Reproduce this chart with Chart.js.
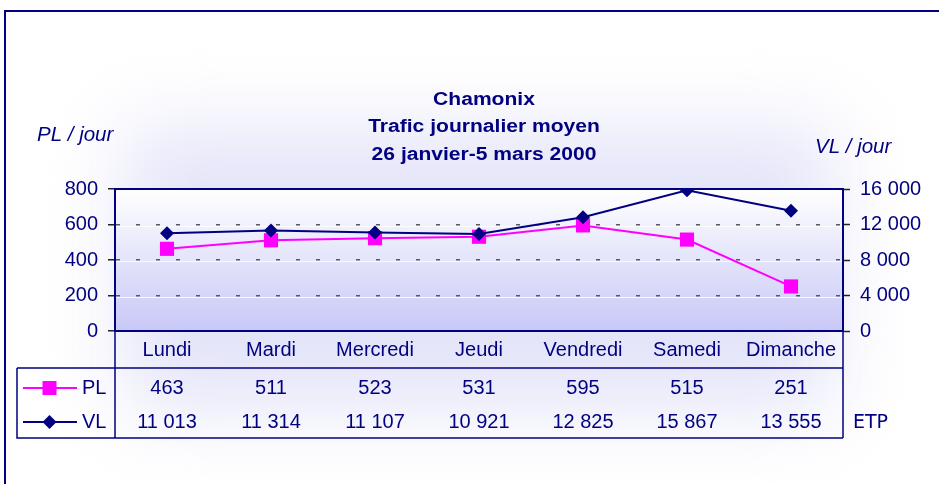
<!DOCTYPE html>
<html>
<head>
<meta charset="utf-8">
<title>Chamonix - Trafic journalier moyen</title>
<script src="https://cdn.jsdelivr.net/npm/chart.js"></script>
<style>
  html, body { margin: 0; padding: 0; background: #fff; }
  #wrap { width: 939px; height: 484px; position: relative; }
</style>
</head>
<body>
<div id="wrap"><canvas id="chart" width="939" height="484"></canvas></div>
<script>
  // Donnees
  const jours = ['Lundi', 'Mardi', 'Mercredi', 'Jeudi', 'Vendredi', 'Samedi', 'Dimanche'];
  const pl = [463, 511, 523, 531, 595, 515, 251];
  const vl = [11013, 11314, 11107, 10921, 12825, 15867, 13555];
  const titre = ['Chamonix', 'Trafic journalier moyen', '26 janvier-5 mars 2000'];

  const NAVY = '#000080';
  const PINK = '#ff00ff';
  const FONT = '"Liberation Sans", Arial, sans-serif';

  // separateur de milliers avec espace
  function fmt(v) {
    return String(v).replace(/\B(?=(\d{3})+(?!\d))/g, ' ');
  }

  Chart.defaults.font.family = FONT;
  Chart.defaults.color = NAVY;

  // Fond, degrade de la zone de tracage
  const fond = {
    id: 'fond',
    beforeDraw(chart) {
      const { ctx, chartArea: a } = chart;
      ctx.save();
      ctx.fillStyle = '#ffffff';
      ctx.fillRect(0, 0, chart.width, chart.height);
      ctx.filter = 'blur(40px)';
      ctx.fillStyle = '#e4e4f9';
      ctx.fillRect(a.left + 10, a.top - 60, a.right - a.left - 20, 280);
      ctx.filter = 'none';

      // degrade vertical de la zone de tracage
      const g = ctx.createLinearGradient(0, a.top, 0, a.bottom);
      g.addColorStop(0, '#ffffff');
      g.addColorStop(1, '#c8c8f7');
      ctx.fillStyle = g;
      ctx.fillRect(a.left, a.top, a.right - a.left, a.bottom - a.top);

      // lignes claires sous le quadrillage
      const y = chart.scales.y;
      ctx.strokeStyle = 'rgba(255,255,255,0.8)';
      ctx.lineWidth = 1;
      [200, 400, 600].forEach(v => {
        const py = Math.round(y.getPixelForValue(v)) + 1.5;
        ctx.beginPath();
        ctx.moveTo(a.left, py);
        ctx.lineTo(a.right, py);
        ctx.stroke();
      });

      // cadre exterieur
      ctx.strokeStyle = NAVY;
      ctx.lineWidth = 2;
      ctx.beginPath();
      ctx.moveTo(5, chart.height);
      ctx.lineTo(5, 11);
      ctx.lineTo(chart.width, 11);
      ctx.stroke();
      ctx.restore();
    }
  };

  // Titre, titres d'axes, tableau de donnees
  const habillage = {
    id: 'habillage',
    beforeDatasetsDraw(chart) {
      const { ctx, chartArea: a } = chart;
      const x = chart.scales.x;
      ctx.save();

      // cadre de la zone de tracage
      ctx.strokeStyle = NAVY;
      ctx.lineWidth = 2;
      ctx.strokeRect(a.left, a.top, a.right - a.left, a.bottom - a.top);

      // titre
      ctx.fillStyle = NAVY;
      ctx.textAlign = 'center';
      ctx.textBaseline = 'middle';
      ctx.font = 'bold 18px ' + FONT;
      const ty = [100, 127, 155];
      titre.forEach((t, i) => {
        ctx.save();
        ctx.translate(484, ty[i]);
        ctx.scale(1.17, 1);
        ctx.fillText(t, 0, 0);
        ctx.restore();
      });

      // titres des axes
      ctx.font = 'italic 20.5px ' + FONT;
      ctx.textAlign = 'left';
      ctx.fillText('PL / jour', 37, 135);
      ctx.fillText('VL / jour', 815, 147);

      // tableau
      const top = 368, bottom = 438, left = 17;
      ctx.lineWidth = 1.5;
      ctx.beginPath();
      ctx.moveTo(a.left, a.bottom);
      ctx.lineTo(a.left, bottom);
      ctx.moveTo(a.right, a.bottom);
      ctx.lineTo(a.right, bottom);
      ctx.moveTo(left, top);
      ctx.lineTo(a.right, top);
      ctx.moveTo(left, top);
      ctx.lineTo(left, bottom);
      ctx.lineTo(a.right, bottom);
      ctx.stroke();

      const rowPL = 388, rowVL = 422;
      ctx.font = '20px ' + FONT;
      ctx.textAlign = 'center';
      jours.forEach((j, i) => {
        const px = x.getPixelForValue(i);
        ctx.fillText(fmt(pl[i]), px, rowPL);
        ctx.fillText(fmt(vl[i]), px, rowVL);
      });

      // cles de legende
      ctx.lineWidth = 2;
      ctx.strokeStyle = PINK;
      ctx.beginPath();
      ctx.moveTo(23, rowPL);
      ctx.lineTo(77, rowPL);
      ctx.stroke();
      ctx.fillStyle = PINK;
      ctx.fillRect(42.5, rowPL - 7, 14, 14);

      ctx.strokeStyle = NAVY;
      ctx.beginPath();
      ctx.moveTo(23, rowVL);
      ctx.lineTo(77, rowVL);
      ctx.stroke();
      ctx.fillStyle = NAVY;
      ctx.beginPath();
      ctx.moveTo(49.5, rowVL - 7);
      ctx.lineTo(56.5, rowVL);
      ctx.lineTo(49.5, rowVL + 7);
      ctx.lineTo(42.5, rowVL);
      ctx.closePath();
      ctx.fill();

      ctx.textAlign = 'left';
      ctx.fillText('PL', 82, rowPL);
      ctx.fillText('VL', 82, rowVL);

      ctx.font = '19px "DejaVu Sans", ' + FONT;
      ctx.fillText('ETP', 853, rowVL + 1);
      ctx.restore();
    }
  };

  new Chart(document.getElementById('chart'), {
    type: 'line',
    data: {
      labels: jours,
      datasets: [
        {
          label: 'VL',
          data: vl,
          yAxisID: 'y1',
          borderColor: NAVY,
          backgroundColor: NAVY,
          borderWidth: 2,
          pointStyle: 'rectRot',
          pointRadius: 7,
          pointBorderWidth: 0,
          tension: 0
        },
        {
          label: 'PL',
          data: pl,
          yAxisID: 'y',
          borderColor: PINK,
          backgroundColor: PINK,
          borderWidth: 2,
          pointStyle: 'rect',
          pointRadius: 10,
          pointBorderWidth: 0,
          tension: 0
        }
      ]
    },
    options: {
      responsive: false,
      animation: false,
      layout: { padding: { top: 189, bottom: 116, left: 0, right: 0 } },
      plugins: {
        legend: { display: false },
        title: { display: false },
        tooltip: { enabled: false }
      },
      scales: {
        x: {
          offset: true,
          grid: { display: false, drawTicks: false },
          border: { display: false },
          ticks: { padding: 7, color: NAVY, font: { size: 20 }, maxRotation: 0 },
          afterFit: s => { s.height = 37; }
        },
        y: {
          position: 'left',
          min: 0,
          max: 800,
          ticks: { stepSize: 200, padding: 10, color: NAVY, font: { size: 20 } },
          grid: {
            color: c => (c.tick && c.tick.value > 0 && c.tick.value < 800) ? '#5a5a5a' : 'rgba(0,0,0,0)',
            lineWidth: 1.5,
            tickLength: 7,
            tickColor: '#222',
            tickWidth: 1.5,
            tickBorderDash: []
          },
          border: { display: true, color: NAVY, width: 2, dash: [4, 16] },
          afterFit: s => { s.width = 115; }
        },
        y1: {
          position: 'right',
          min: 0,
          max: 16000,
          ticks: { stepSize: 4000, padding: 10, color: NAVY, font: { size: 20 }, callback: v => fmt(v) },
          grid: { drawOnChartArea: false, tickLength: 7, tickColor: '#222', tickWidth: 1.5 },
          border: { display: true, color: NAVY, width: 2 },
          afterFit: s => { s.width = 96; }
        }
      }
    },
    plugins: [fond, habillage]
  });
</script>
</body>
</html>
